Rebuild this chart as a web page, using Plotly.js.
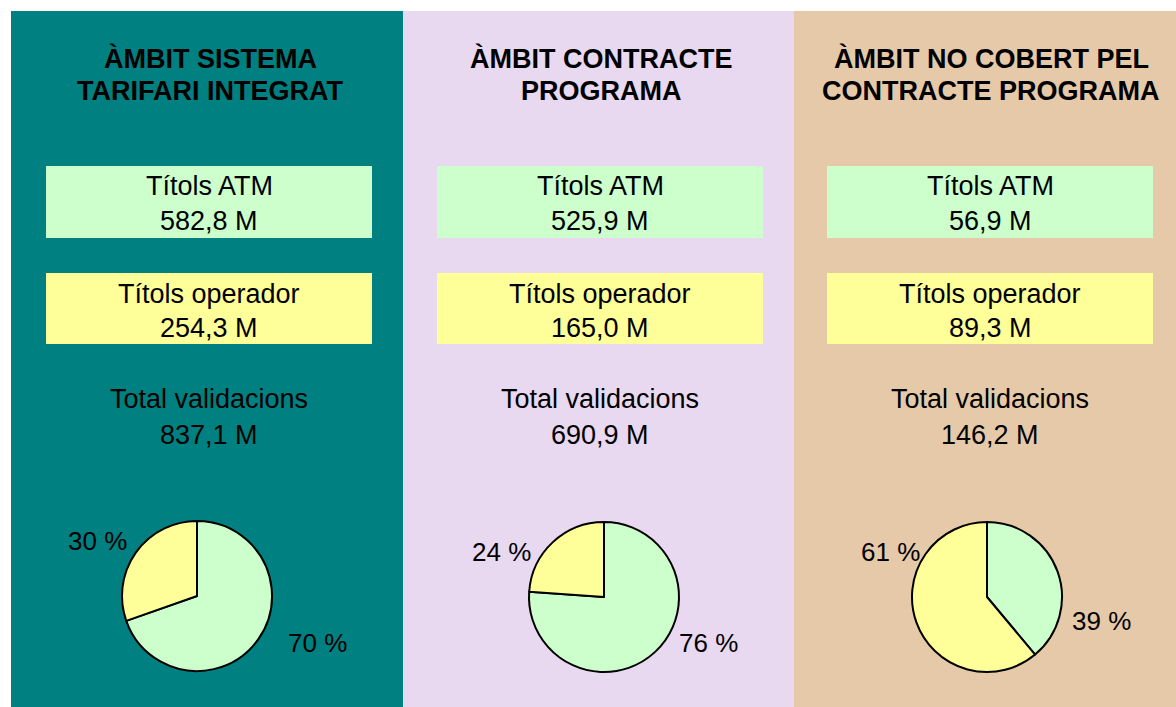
<!DOCTYPE html>
<html>
<head>
<meta charset="utf-8">
<script src="https://cdn.plot.ly/plotly-3.0.1.min.js"></script>
<style>html,body{margin:0;padding:0;background:#fff;}#chart{width:1176px;height:707px;}</style>
</head>
<body>
<div id="chart"></div>
<script>
// ---- data ----
var titleLine1 = ["ÀMBIT SISTEMA", "ÀMBIT CONTRACTE", "ÀMBIT NO COBERT PEL"];
var titleLine2 = ["TARIFARI INTEGRAT", "PROGRAMA", "CONTRACTE PROGRAMA"];
var seriesLabels = ["Títols ATM", "Títols operador"];
var totalLabel = "Total validacions";
var atmValues = [582.8, 525.9, 56.9];
var operatorValues = [254.3, 165.0, 89.3];
var totalValues = [837.1, 690.9, 146.2];
var unit = " M";

// ---- styles / layout positions (pixels) ----
var W = 1176, H = 707;
var panelColors = ["#008080", "#E8D8F0", "#E6C9A8"];
var panelX = [[11, 403], [403, 794], [794, 1176]];
var panelTop = 11;
var boxX = [[46, 372], [437, 763], [827, 1153]];
var atmBoxY = [166, 238], opBoxY = [273, 344];
var sliceColors = ["#CCFFCC", "#FFFF99"];
var pieCenters = [[197, 596], [604, 597], [987, 597]];
var pieR = 75;
// label anchor positions for [ATM slice, operator slice] in each panel
var pctLabelPos = [
  [[317, 643], [97, 541]],
  [[708, 643], [502, 552]],
  [[1101, 621], [890, 552]]
];
var FONT = "Liberation Sans, Arial, sans-serif";

function px(x) { return x / W; }
function py(y) { return 1 - y / H; }
function fmt(v) { return v.toFixed(1).replace('.', ',') + unit; }

var shapes = [], annotations = [], traces = [];
function ann(text, x, y, size, bold) {
  annotations.push({
    text: bold ? "<b>" + text + "</b>" : text,
    xref: "paper", yref: "paper", x: px(x), y: py(y),
    xanchor: "center", yanchor: "middle", showarrow: false,
    font: {family: FONT, size: size, color: "#000"}
  });
}

for (var i = 0; i < 3; i++) {
  shapes.push({type: "rect", xref: "paper", yref: "paper", layer: "below",
    x0: px(panelX[i][0]), x1: px(panelX[i][1]), y0: 0, y1: py(panelTop),
    fillcolor: panelColors[i], line: {width: 0}});
  shapes.push({type: "rect", xref: "paper", yref: "paper", layer: "below",
    x0: px(boxX[i][0]), x1: px(boxX[i][1]), y0: py(atmBoxY[1]), y1: py(atmBoxY[0]),
    fillcolor: sliceColors[0], line: {width: 0}});
  shapes.push({type: "rect", xref: "paper", yref: "paper", layer: "below",
    x0: px(boxX[i][0]), x1: px(boxX[i][1]), y0: py(opBoxY[1]), y1: py(opBoxY[0]),
    fillcolor: sliceColors[1], line: {width: 0}});

  var cx = (boxX[i][0] + boxX[i][1]) / 2;
  ann(titleLine1[i], cx + 1, 59, 27, true);
  ann(titleLine2[i], cx + 1, 91, 27, true);
  ann(seriesLabels[0], cx, 186, 27, false);
  ann(fmt(atmValues[i]), cx, 221, 27, false);
  ann(seriesLabels[1], cx, 294, 27, false);
  ann(fmt(operatorValues[i]), cx, 328, 27, false);
  ann(totalLabel, cx, 399, 27, false);
  ann(fmt(totalValues[i]), cx, 435, 27, false);

  var vals = [atmValues[i], operatorValues[i]];
  var sum = vals[0] + vals[1];
  var pcts = vals.map(function (v) { return Math.round(v / sum * 100) + " %"; });
  ann(pcts[0], pctLabelPos[i][0][0], pctLabelPos[i][0][1], 26, false);
  ann(pcts[1], pctLabelPos[i][1][0], pctLabelPos[i][1][1], 26, false);

  var pc = pieCenters[i];
  traces.push({
    type: "pie",
    values: vals,
    labels: seriesLabels,
    textinfo: "none",
    sort: false,
    direction: "clockwise",
    rotation: 0,
    marker: {colors: sliceColors, line: {color: "#000", width: 2}},
    domain: {x: [px(pc[0] - pieR), px(pc[0] + pieR)], y: [py(pc[1] + pieR), py(pc[1] - pieR)]},
    hoverinfo: "none",
    showlegend: false
  });
}

var layout = {
  width: W, height: H,
  margin: {l: 0, r: 0, t: 0, b: 0},
  paper_bgcolor: "#FFFFFF",
  showlegend: false,
  shapes: shapes,
  annotations: annotations
};
Plotly.newPlot("chart", traces, layout, {displayModeBar: false, staticPlot: true});
</script>
</body>
</html>
